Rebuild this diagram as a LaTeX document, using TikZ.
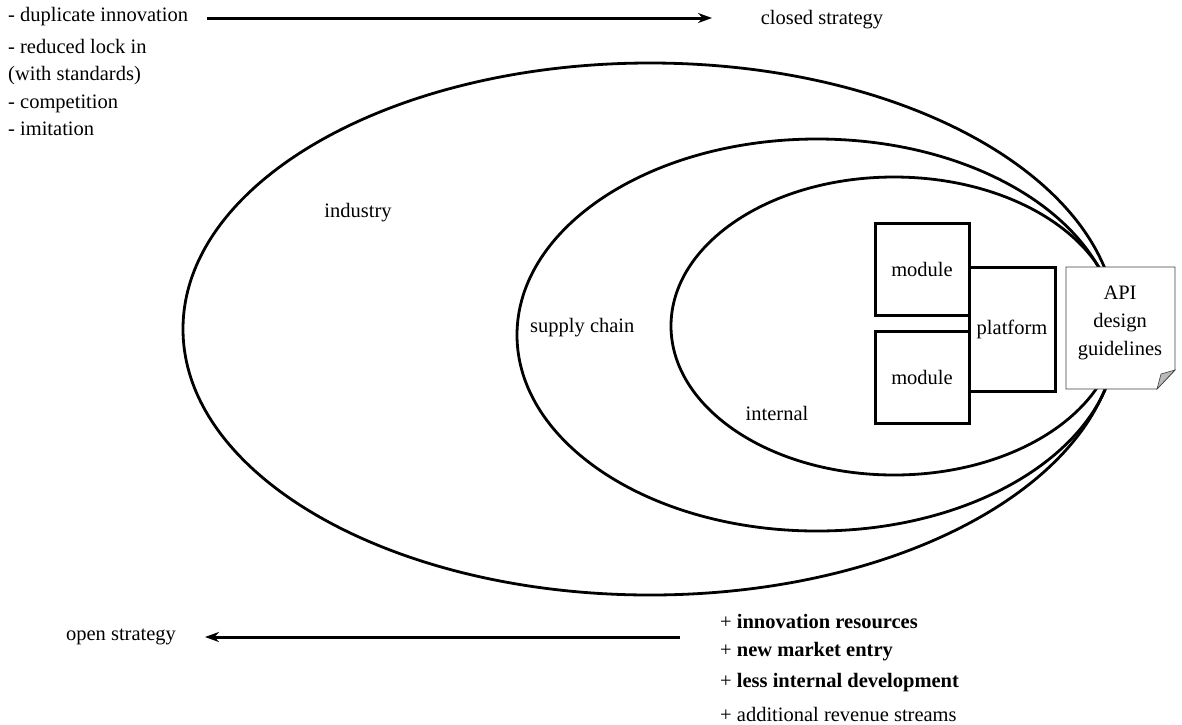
\documentclass[tikz,border=0pt]{standalone}
\usepackage{fontspec}
\setmainfont{LiberationSerif}[Extension=.ttf, UprightFont=*-Regular, BoldFont=*-Bold, ItalicFont=*-Italic, BoldItalicFont=*-BoldItalic]
\usetikzlibrary{arrows.meta}
\begin{document}
\begin{tikzpicture}[x=1pt,y=-1pt,
  txt/.style={font=\fontsize{20.5}{25}\selectfont, inner sep=0pt},
  ring/.style={line width=2.8pt},
  boxst/.style={draw, line width=3pt, fill=white, inner sep=0pt},
  arr/.style={line width=3pt, -{Stealth[length=14pt,width=10pt]}}]
\useasboundingbox (0,0) rectangle (1182,724);
% ellipses
\draw[ring] (650,329) ellipse [x radius=467, y radius=266];
\draw[ring] (817,335) ellipse [x radius=300, y radius=196];
\draw[ring] (894,326) ellipse [x radius=223, y radius=149];
% labels in ellipses
\node[txt] (ind) at (358,213) {industry};
\node[txt, anchor=west] (sup) at (530,328) {supply chain};
\node[txt] (intl) at (777,413) {internal};
% boxes
\node[boxst, minimum width=94pt, minimum height=92pt, txt] (m1) at (922,269.5) {module};
\node[boxst, minimum width=94pt, minimum height=92pt, txt] (m2) at (922,377) {module};
\node[boxst, minimum width=86pt, minimum height=124pt, txt] (plat) at (1012,329) {platform};
% note
\draw[line width=0.8pt, draw=black!75, fill=white] (1066,267) -- (1175,267) -- (1175,370) -- (1157,389) -- (1066,389) -- cycle;
\fill[gray!55, draw=black!75, line width=0.6pt] (1175,370) -- (1157,389) -- (1161,374) -- cycle;
\node[txt, align=center, font=\fontsize{20.5}{28}\selectfont] (api) at (1120,323) {API\\design\\guidelines};
% top left list
\node[txt, anchor=west] (d1) at (8,17) {- duplicate innovation};
\node[txt, anchor=north west, align=left, font=\fontsize{20.5}{27.5}\selectfont] (d2) at (8,39) {- reduced lock in\\(with standards)\\- competition\\- imitation};
\node[txt] (closed) at (822,20) {closed strategy};
\coordinate (a1s) at (207,18);
\coordinate (a1e) at (712,18);
\draw[arr] (a1s) -- (a1e);
% bottom
\node[txt] (open) at (121,637) {open strategy};
\coordinate (a2s) at (680,637);
\coordinate (a2e) at (205,637);
\draw[arr] (a2s) -- (a2e);
\node[txt, anchor=west] (p1) at (720,621) {+ \textbf{innovation resources}};
\node[txt, anchor=west] (p2) at (720,652) {+ \textbf{new market entry}};
\node[txt, anchor=west] (p3) at (720,683) {+ \textbf{less internal development}};
\node[txt, anchor=west] (p4) at (720,714) {+ additional revenue streams};
\end{tikzpicture}
\end{document}
